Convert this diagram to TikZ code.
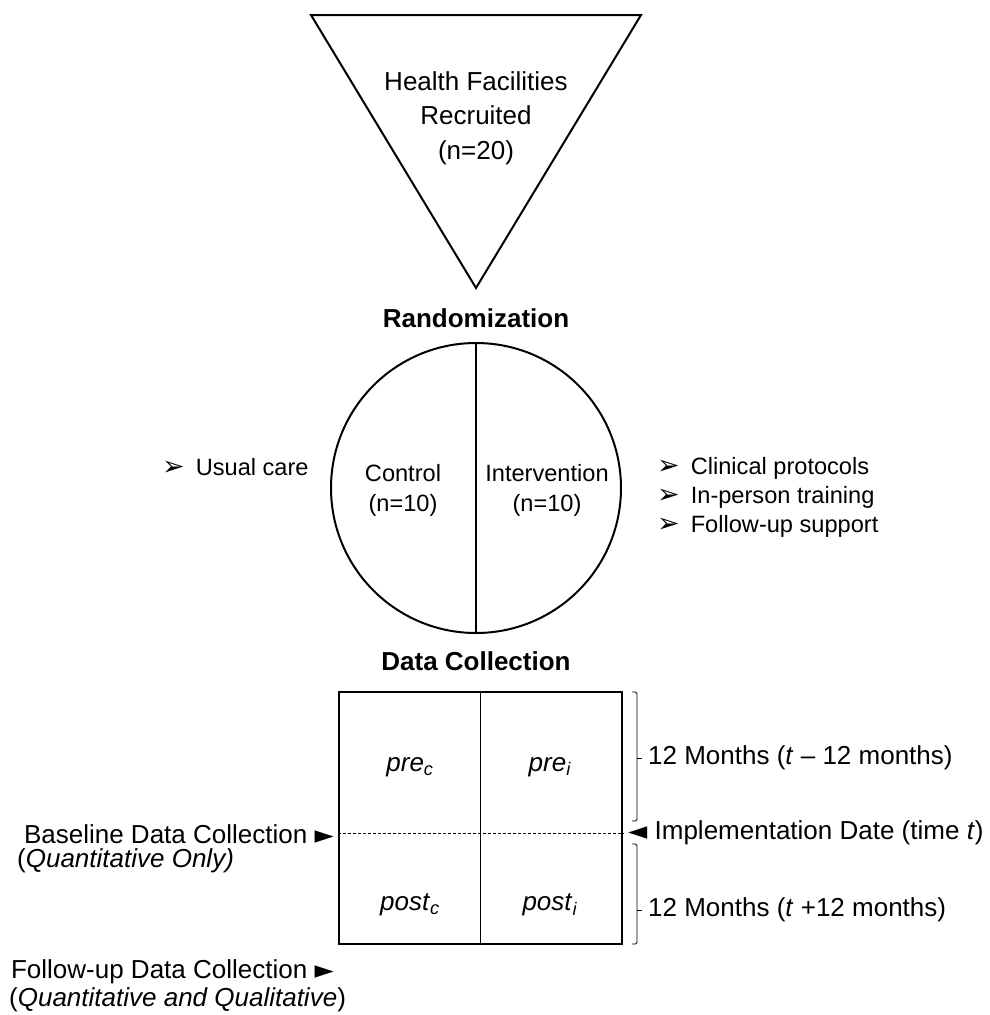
\documentclass[tikz,border=0pt]{standalone}
\usepackage{fontspec}
\setmainfont{Liberation Sans}
\newfontfamily\symfont{DejaVu Sans}
\newcommand{\arrowbullet}{{\symfont\fontsize{27}{27}\selectfont ➢}}
\newcommand{\rtri}{{\symfont\fontsize{25}{25}\selectfont ►}}
\newcommand{\ltri}{{\symfont\fontsize{25}{25}\selectfont ◄}}

\begin{document}
\begin{tikzpicture}[x=1pt, y=-1pt,
    bigtxt/.style={font=\fontsize{26}{34.5}\selectfont, inner sep=0pt, align=center},
    smalltxt/.style={font=\fontsize{23.6}{30}\selectfont, inner sep=0pt, align=center},
    headtxt/.style={font=\fontsize{26}{34.5}\selectfont\bfseries, inner sep=0pt},
    bracket/.style={line width=0.9pt, rounded corners=1.5pt}]
    \useasboundingbox (0,0) rectangle (989,1015);
    % Recruitment
    \coordinate (tl) at (311,15);
    \coordinate (tr) at (641,15);
    \coordinate (tip) at (476,288);
    \draw[line width=2pt] (tl) -- (tr) -- (tip) -- cycle;
    \node[bigtxt] (recruit) at (476,118) {Health Facilities\\Recruited\\(n=20)};

    % Randomization
    \node[headtxt] (randtitle) at (476,318) {Randomization};
    \node[draw, circle, line width=2pt, minimum size=290pt, inner sep=0pt] (rand) at (476,488) {};
    \draw[line width=1.1pt] (rand.north) -- (rand.south);
    \node[smalltxt] (ctrl) at (403,490) {Control\\(n=10)};
    \node[smalltxt] (intv) at (547,490) {Intervention\\(n=10)};
    \node[smalltxt, anchor=base west] (usual) at (162,475) {\arrowbullet\hspace{11pt}Usual care};
    \foreach \txt [count=\i] in {Clinical protocols, In-person training, Follow-up support}
        \node[smalltxt, anchor=base west] (comp\i) at (657,445+29*\i) {\arrowbullet\hspace{11pt}\txt};

    % Data collection
    \node[headtxt] (dctitle) at (476,661) {Data Collection};
    \node[draw, line width=2.6pt, minimum width=283pt, minimum height=252pt, inner sep=0pt] (dc) at (480.5,818) {};
    \draw[line width=1.1pt] (dc.north) -- (dc.south);
    \coordinate (impl) at (480,833);
    \draw[line width=1pt, dash pattern=on 3pt off 2pt] (dc.west |- impl) -- (dc.east |- impl);
    \node[bigtxt] (prec) at (410,767) {\textit{pre}\textsubscript{\textit{c}}};
    \node[bigtxt] (prei) at (550,767) {\textit{pre}\textsubscript{\textit{i}}};
    \node[bigtxt] (postc) at (410,905) {\textit{post}\textsubscript{\textit{c}}};
    \node[bigtxt] (posti) at (550,905) {\textit{post}\textsubscript{\textit{i}}};

    % Brackets
    \coordinate (pretop) at (637,692);
    \coordinate (prebot) at (637,821);
    \coordinate (premid) at (637,758);
    \coordinate (posttop) at (637,844);
    \coordinate (postbot) at (637,944);
    \coordinate (postmid) at (637,910);
    \draw[bracket] ([xshift=-5pt]pretop) -- (pretop) -- (prebot) -- ([xshift=-5pt]prebot);
    \draw[bracket] (premid) -- ++(5,0);
    \draw[bracket] ([xshift=-5pt]posttop) -- (posttop) -- (postbot) -- ([xshift=-5pt]postbot);
    \draw[bracket] (postmid) -- ++(5,0);

    \node[bigtxt, anchor=west] (pre12) at (648,758) {12 Months (\textit{t} -- 12 months)};
    \node[bigtxt, anchor=west] (impltxt) at (628,833) {\ltri\ Implementation Date (time \textit{t})};
    \node[bigtxt, anchor=west] (post12) at (648,910) {12 Months (\textit{t} +12 months)};

    \node[bigtxt, anchor=east] (base) at (334,834) {Baseline Data Collection \rtri};
    \node[bigtxt, anchor=west] (baseq) at (17,861) {(\textit{Quantitative Only)}};
    \node[bigtxt, anchor=east] (follow) at (334,972) {Follow-up Data Collection \rtri};
    \node[bigtxt, anchor=west] (followq) at (9,1000) {(\textit{Quantitative and Qualitative})};
\end{tikzpicture}
\end{document}
